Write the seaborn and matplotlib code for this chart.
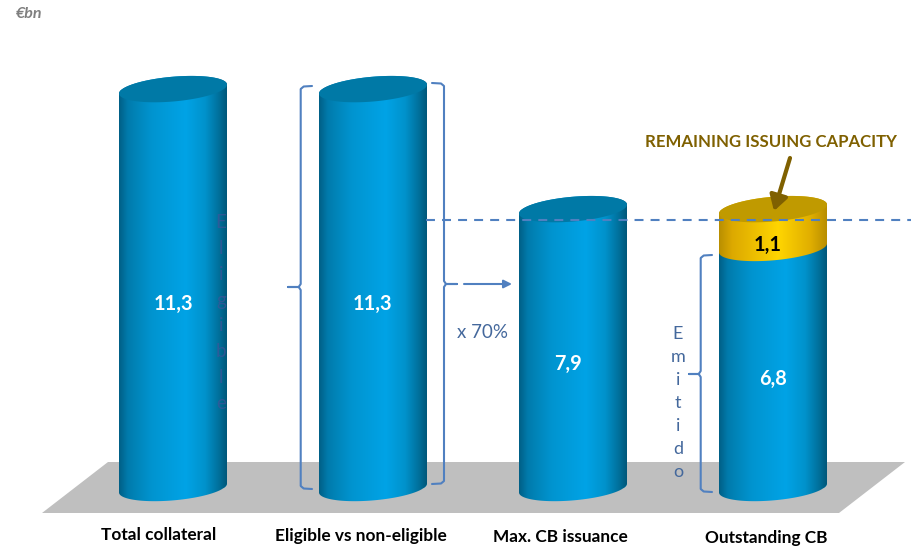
import numpy as np
import pandas as pd
import seaborn as sns
import matplotlib
matplotlib.use("Agg")
import matplotlib.pyplot as plt
from matplotlib.colors import LinearSegmentedColormap
from matplotlib.patches import PathPatch, Polygon
from matplotlib.path import Path
from matplotlib.transforms import Affine2D

# ---- data ----
categories = ["Total collateral", "Eligible vs non-eligible", "Max. CB issuance", "Outstanding CB"]
base_values = [11.3, 11.3, 7.9, 6.8]
capacity_values = [0.0, 0.0, 0.0, 1.1]
base_labels = ["11,3", "11,3", "7,9", "6,8"]
capacity_label = "1,1"
unit_label = "€bn"
capacity_title = "REMAINING ISSUING CAPACITY"
ratio_label = "x 70%"
eligible_word = "Eligible"
issued_word = "Emitido"

# ---- styling ----
W, H = 911, 548
sns.set_theme(style="white")
plt.rcParams["font.family"] = ["Lato", "DejaVu Sans"]
FONT_BLUE = "#44689C"
LINE_BLUE = "#5080C0"
GOLD_DARK = "#7F6000"
blue_cmap = LinearSegmentedColormap.from_list(
    "cyl_blue", [(0, "#005F86"), (0.08, "#007BAC"), (0.3, "#0094CF"), (0.62, "#00A3E6"),
                 (0.8, "#0092CB"), (0.93, "#006F9A"), (1, "#00577A")])
gold_cmap = LinearSegmentedColormap.from_list(
    "cyl_gold", [(0, "#B98F00"), (0.12, "#DCA900"), (0.55, "#FFD500"),
                 (0.85, "#E0AE00"), (1, "#B88E00")])
BLUE_CAP = "#0079A6"
GOLD_CAP = "#C09A00"

fig = plt.figure(figsize=(W / 100, H / 100), dpi=100, facecolor="white")
ax = fig.add_axes([0, 0, 1, 1])

px_per_cat, px_per_val = 200.0, 35.3
x0_px, y0_px = 173.0, 488.0
XLIM = (-x0_px / px_per_cat, (W - x0_px) / px_per_cat)
YLIM = ((y0_px - H) / px_per_val, y0_px / px_per_val)
# pixel-space transform, for the annotation furniture only
PX = Affine2D().scale(1 / W, -1 / H).translate(0, 1) + ax.transAxes

df = pd.DataFrame({"category": categories, "base": base_values, "capacity": capacity_values})
bar_width = 108 / px_per_cat
sns.barplot(data=df, x="category", y="base", color="#00A0E0", width=bar_width, saturation=1,
            order=categories, ax=ax, zorder=2)
n_base = len(ax.patches)
sns.barplot(data=df, x="category", y="capacity", bottom=df["base"], color="#FFD500", width=bar_width,
            saturation=1, order=categories, ax=ax, zorder=2)
bars = list(ax.patches)

# floor
ax.add_patch(Polygon([(42, 513), (108, 462), (905, 462), (839, 513)], closed=True,
                     facecolor="#BFBFBF", edgecolor="none", transform=PX, zorder=0))

shear = 4.5 / px_per_val
minor = 12.4 / px_per_val


def arc(xc, a, v, t0, t1, n=60):
    t = np.linspace(t0, t1, n)
    return np.column_stack([xc + a * np.cos(t), v + minor * np.sin(t) + shear * np.cos(t)])


def body_path(xc, a, v0, v1):
    pts = np.vstack([arc(xc, a, v0, np.pi, 2 * np.pi), arc(xc, a, v1, 0, np.pi)])
    return Path(np.vstack([pts, pts[0]]), closed=True)


def cap_path(xc, a, v):
    pts = arc(xc, a, v, 0, 2 * np.pi, 120)
    return Path(pts, closed=True)


grad = np.linspace(0, 1, 256).reshape(1, -1)


def shade(bar, cmap, z):
    x, w = bar.get_x(), bar.get_width()
    v0, v1 = bar.get_y(), bar.get_y() + bar.get_height()
    clip = PathPatch(body_path(x + w / 2, w / 2, v0, v1), transform=ax.transData,
                     facecolor="none", edgecolor="none")
    ax.add_patch(clip)
    im = ax.imshow(grad, extent=(x, x + w, v0 - 1, v1 + 1), cmap=cmap, aspect="auto",
                   zorder=z, interpolation="bilinear")
    im.set_clip_path(clip)
    bar.set_clip_path(clip)
    return x + w / 2, w / 2, v1


tops = []
for bar in bars[:n_base]:
    tops.append(shade(bar, blue_cmap, 3))
for i, bar in enumerate(bars[n_base:]):
    if bar.get_height() > 0:
        xc, a, v1 = shade(bar, gold_cmap, 4)
        ax.add_patch(PathPatch(cap_path(xc, a, v1), facecolor=GOLD_CAP, edgecolor="none", zorder=5))
    else:
        bar.set_visible(False)
        xc, a, v1 = tops[i]
        ax.add_patch(PathPatch(cap_path(xc, a, v1), facecolor=BLUE_CAP, edgecolor="none", zorder=5))
ax.set_xlim(*XLIM)
ax.set_ylim(*YLIM)
ax.set_axis_off()


def brace(x_spine, x_end, y_top, y_bot, x_tip, y_mid):
    sgn = np.sign(x_end - x_spine)
    r = 3
    tip = np.sign(x_tip - x_spine)
    verts = [(x_end, y_top), (x_spine + sgn * r, y_top + 0.5), (x_spine, y_top + r),
             (x_spine, y_mid - r), (x_spine + tip * 2, y_mid), (x_tip, y_mid),
             (x_spine + tip * 2, y_mid), (x_spine, y_mid + r),
             (x_spine, y_bot - r), (x_spine + sgn * r, y_bot - 0.5), (x_end, y_bot)]
    xs, ys = zip(*verts)
    ax.plot(xs, ys, color=LINE_BLUE, lw=1.5, transform=PX, zorder=6, solid_capstyle="round",
            solid_joinstyle="round")


brace(300.7, 312, 86, 489, 288, 287)
brace(444, 432, 83, 484, 457, 284)
brace(700.7, 712, 255, 492, 689, 374)

# dashed level and arrows
ax.plot([426, 911], [220, 220], color=LINE_BLUE, lw=1.5, dashes=(4.3, 3.4), transform=PX, zorder=6)
ax.annotate("", xy=(512, 284), xytext=(464, 284), xycoords=PX, textcoords=PX, zorder=6,
            arrowprops=dict(arrowstyle="-|>,head_length=0.4,head_width=0.2", color=LINE_BLUE,
                            lw=1.5, shrinkA=0, shrinkB=0))
ax.annotate("", xy=(774, 211), xytext=(790, 158), xycoords=PX, textcoords=PX, zorder=7,
            arrowprops=dict(arrowstyle="-|>,head_length=0.75,head_width=0.45", color=GOLD_DARK,
                            lw=3.0, shrinkA=0, shrinkB=0))

# text
value_px = [(173.5, 304), (372, 304), (568, 364), (773, 379)]
for (x, y), s in zip(value_px, base_labels):
    ax.text(x, y, s, transform=PX, color="white", fontsize=14.3, fontweight="bold",
            ha="center", va="center", zorder=8)
ax.text(768, 245, capacity_label, transform=PX, color="black", fontsize=14.3, fontweight="bold",
        ha="center", va="center", zorder=8)

label_px = [(158.5, 534.5), (360.5, 536.5), (560, 536.5), (766, 537.5)]
for (x, y), s in zip(label_px, categories):
    ax.text(x, y, s, transform=PX, color="black", fontsize=12.4, fontweight="bold",
            ha="center", va="center", zorder=8)

ax.text(16, 14, unit_label, transform=PX, color="#7F7F7F", fontsize=11.5, fontweight="bold",
        fontstyle="italic", ha="left", va="center")
ax.text(770.5, 142, capacity_title, transform=PX, color=GOLD_DARK, fontsize=12.1, fontweight="bold",
        ha="center", va="center", zorder=8)
ax.text(482.5, 333, ratio_label, transform=PX, color=FONT_BLUE, fontsize=13.5, ha="center", va="center", zorder=8)
ax.text(678, 403, "\n".join(issued_word), transform=PX, color=FONT_BLUE, fontsize=13,
        ha="center", va="center", linespacing=1.545, zorder=8)
ax.text(221, 313, "\n".join(eligible_word), transform=PX, color="#4B4F9A", alpha=0.6, fontsize=13.5,
        ha="center", va="center", linespacing=1.64, zorder=8)

fig.savefig("out.png", dpi=100, facecolor="white")
